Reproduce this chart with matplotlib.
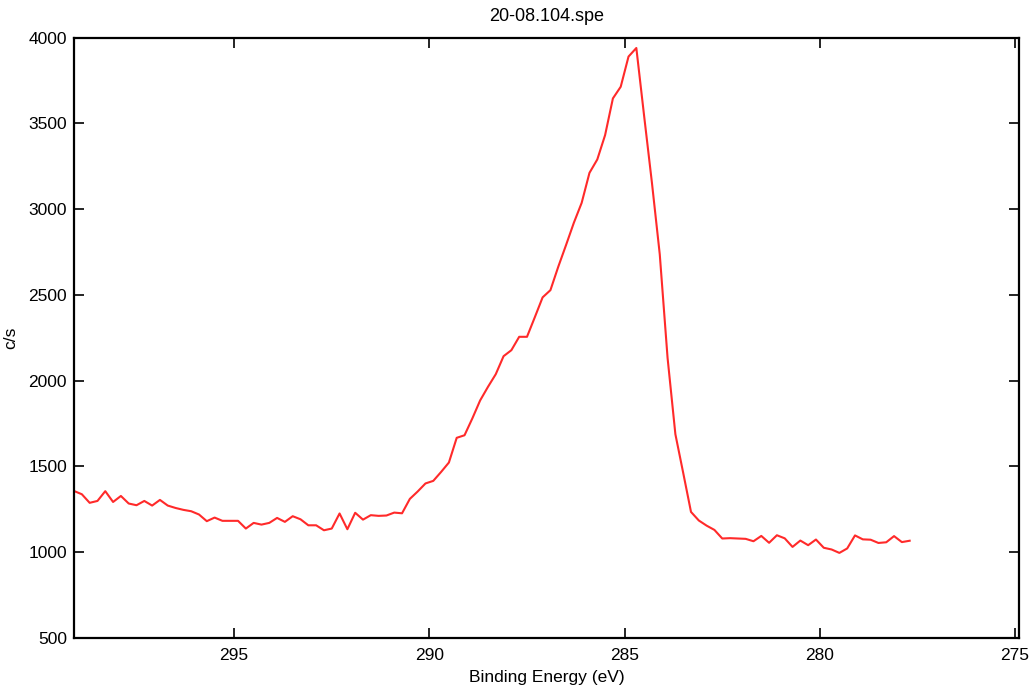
import numpy as np
import matplotlib
matplotlib.use("Agg")
import matplotlib.pyplot as plt

plt.rcParams['font.family'] = ['Liberation Sans', 'DejaVu Sans']

# C 1s region, 0.2 eV steps from 299.1 eV down to 277.7 eV
start_ev = 299.1
step_ev = 0.2
counts = [
    1357, 1338, 1288, 1299, 1356, 1293, 1328, 1284, 1274, 1299,
    1272, 1305, 1272, 1258, 1247, 1239, 1220, 1181, 1202, 1183,
    1183, 1183, 1138, 1171, 1161, 1171, 1200, 1177, 1210, 1192,
    1157, 1157, 1128, 1138, 1226, 1134, 1230, 1190, 1216, 1212,
    1214, 1231, 1227, 1311, 1354, 1401, 1416, 1468, 1523, 1667,
    1682, 1780, 1885, 1964, 2038, 2143, 2178, 2256, 2256, 2370,
    2486, 2528, 2664, 2791, 2921, 3037, 3212, 3290, 3432, 3646,
    3714, 3890, 3940, 3543, 3153, 2737, 2133, 1688, 1463, 1235,
    1185, 1155, 1130, 1080, 1082, 1080, 1078, 1064, 1095, 1055,
    1099, 1081, 1031, 1068, 1041, 1074, 1026, 1016, 996, 1022,
    1098, 1075, 1073, 1054, 1058, 1094, 1059, 1067,
]
energy = start_ev - step_ev * np.arange(len(counts))

x_ticks = [295, 290, 285, 280, 275]
y_ticks = [500, 1000, 1500, 2000, 2500, 3000, 3500, 4000]

fig = plt.figure(figsize=(10.34, 6.93), dpi=100)
ax = fig.add_axes([0.0716, 0.0794, 0.9139, 0.8662])

ax.plot(energy, counts, color='#ff2a2a', lw=1.5)

ax.set_xlim(299.1, 274.9)
ax.set_ylim(500, 4000)
ax.set_xticks(x_ticks)
ax.set_yticks(y_ticks)

ax.tick_params(direction='in', length=7, width=1.2, labelsize=12.5,
               top=True, right=True, pad=5, colors='black')
ax.tick_params(axis='x', pad=7)
for s in ax.spines.values():
    s.set_linewidth(1.6)

ax.set_title("20-08.104.spe", fontsize=13, pad=12)
ax.set_xlabel("Binding Energy (eV)", fontsize=12.5, labelpad=5)
ax.set_ylabel("c/s", fontsize=12.5, labelpad=7)

fig.savefig("out.png", dpi=100)
